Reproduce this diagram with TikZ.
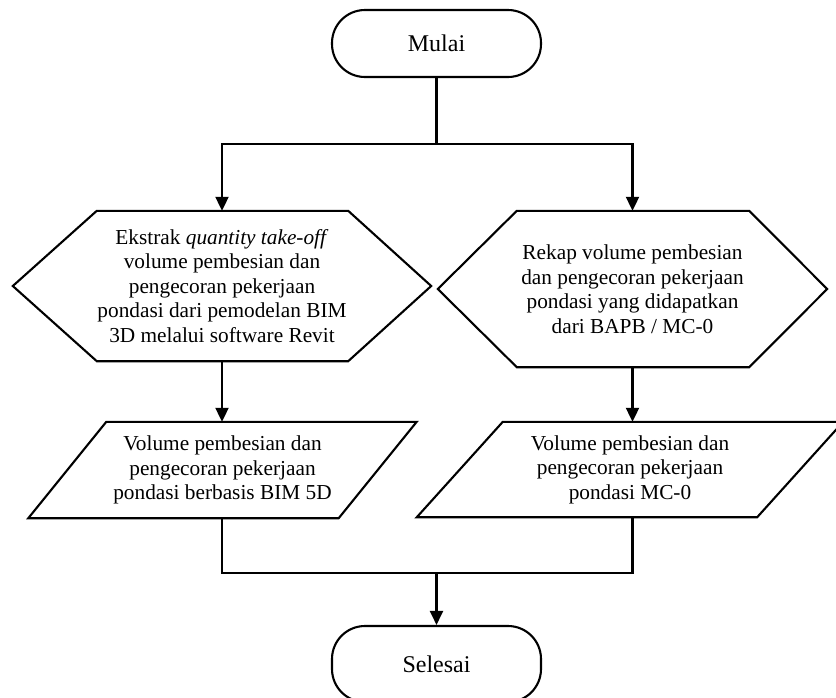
\documentclass[tikz,border=0pt]{standalone}
\usepackage{fontspec}
\setmainfont{Liberation Serif}
\usetikzlibrary{arrows.meta,calc}

\tikzset{
  flow/.style={line width=2.1pt, line join=miter},
  arr/.style={flow, -{Triangle[length=14pt,width=13pt]}},
  terminal/.style={draw, line width=2.1pt, rounded corners=33pt, inner sep=0pt,
    font=\fontsize{24}{28}\selectfont},
  body/.style={inner sep=0pt, align=center, font=\fontsize{21.3}{24.5}\selectfont}
}

\begin{document}
\begin{tikzpicture}[x=1pt,y=-1pt]
\useasboundingbox (0,0) rectangle (836,697);

% start / end terminals
\node[terminal, minimum width=209pt, minimum height=67pt] (mulai) at (436.5,43.5) {Mulai};
\node[terminal, minimum width=209pt, minimum height=76pt] (selesai) at (436.5,664) {Selesai};

% process hexagons (text nodes sized to the outline box)
\node[body, minimum width=418pt, minimum height=150pt] (hexL) at (222,286)
  {Ekstrak \textit{quantity take-off}\\volume pembesian dan\\pengecoran pekerjaan\\pondasi dari pemodelan BIM\\3D melalui software Revit};
\node[body, minimum width=389pt, minimum height=156pt] (hexR) at (632.5,289)
  {Rekap volume pembesian\\dan pengecoran pekerjaan\\pondasi yang didapatkan\\dari BAPB / MC-0};

\draw[flow] (hexL.west) -- ($(hexL.north west)+(84,0)$) -- ($(hexL.north east)+(-83,0)$)
  -- (hexL.east) -- ($(hexL.south east)+(-83,0)$) -- ($(hexL.south west)+(84,0)$) -- cycle;
\draw[flow] (hexR.west) -- ($(hexR.north west)+(79,0)$) -- ($(hexR.north east)+(-78,0)$)
  -- (hexR.east) -- ($(hexR.south east)+(-78,0)$) -- ($(hexR.south west)+(79,0)$) -- cycle;

% data parallelograms
\node[body, minimum width=310pt, minimum height=96pt] (paraL) at (222.5,470)
  {Volume pembesian dan\\pengecoran pekerjaan\\pondasi berbasis BIM 5D};
\node[body, minimum width=340pt, minimum height=95pt] (paraR) at (630,469.5)
  {Volume pembesian dan\\pengecoran pekerjaan\\pondasi MC-0};

\draw[flow] ($(paraL.north west)+(39,0)$) -- ($(paraL.north east)+(39,0)$)
  -- ($(paraL.south east)+(-39,0)$) -- ($(paraL.south west)+(-39,0)$) -- cycle;
\draw[flow] ($(paraR.north west)+(43,0)$) -- ($(paraR.north east)+(43,0)$)
  -- ($(paraR.south east)+(-43,0)$) -- ($(paraR.south west)+(-43,0)$) -- cycle;

% connectors
\coordinate (split) at (436.5,144);
\coordinate (join) at (436.5,573);

\draw[flow] (mulai.south) -- (split);
\draw[arr] (split) -| (hexL.north);
\draw[arr] (split) -| (hexR.north);
\draw[arr] (hexL.south) -- (hexL.south |- paraL.north);
\draw[arr] (hexR.south) -- (hexR.south |- paraR.north);
\draw[flow] (hexL.south |- paraL.south) |- (join);
\draw[flow] (hexR.south |- paraR.south) |- (join);
\draw[arr] (join) -- (selesai.north);
\end{tikzpicture}
\end{document}
